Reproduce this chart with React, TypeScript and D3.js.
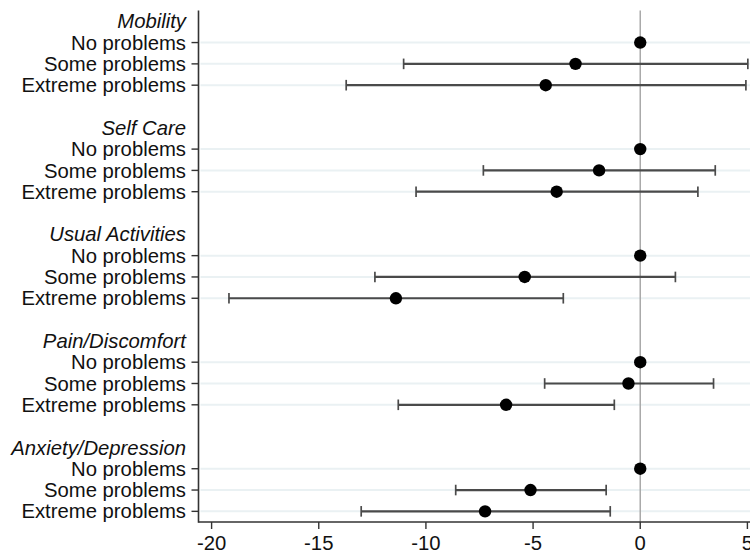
import React, { useRef, useEffect } from "react";
import { select, scaleLinear, scalePoint } from "d3";

const domains = ["Mobility", "Self Care", "Usual Activities", "Pain/Discomfort", "Anxiety/Depression"];
const levels = ["No problems", "Some problems", "Extreme problems"];

// "No problems" is the reference level: estimate 0, no interval
const someEst = [-3.02, -1.92, -5.39, -0.55, -5.12];
const someLo = [-11.04, -7.32, -12.38, -4.46, -8.61];
const someHi = [5.02, 3.5, 1.64, 3.42, -1.59];
const extremeEst = [-4.41, -3.9, -11.4, -6.26, -7.24];
const extremeLo = [-13.72, -10.46, -19.19, -11.29, -13.02];
const extremeHi = [4.93, 2.69, -3.59, -1.21, -1.4];

const xTicks = [-20, -15, -10, -5, 0, 5];

const W = 750;
const H = 554;
const FONT = "'Liberation Sans', Arial, sans-serif";
const FS = "20.3px";

const App = () => {
    const svgRef = useRef<SVGSVGElement>(null);

    useEffect(() => {
        const svg = select(svgRef.current);
        svg.selectAll("*").remove();

        const left = 198.5;
        const top = 10.6;
        const bottom = 522;

        const x = scaleLinear().domain([-20, 5]).range([211.6, 747.4]);

        // slots: header + 3 levels + gap per domain (no trailing gap)
        const slots: string[] = [];
        domains.forEach((d, i) => {
            slots.push("h" + i);
            levels.forEach((l, j) => slots.push(i + "-" + j));
            if (i < domains.length - 1) slots.push("g" + i);
        });
        const y = scalePoint().domain(slots).range([top, bottom]).padding(0.5);

        const rows: { key: string; est: number; lo: number | null; hi: number | null; label: string }[] = [];
        domains.forEach((d, i) => {
            rows.push({ key: i + "-0", est: 0, lo: null, hi: null, label: levels[0] });
            rows.push({ key: i + "-1", est: someEst[i], lo: someLo[i], hi: someHi[i], label: levels[1] });
            rows.push({ key: i + "-2", est: extremeEst[i], lo: extremeLo[i], hi: extremeHi[i], label: levels[2] });
        });

        // gridlines
        svg.selectAll(".grid")
            .data(rows)
            .join("line")
            .attr("x1", left + 2)
            .attr("x2", W)
            .attr("y1", (d) => y(d.key)!)
            .attr("y2", (d) => y(d.key)!)
            .attr("stroke", "#eaf1f3")
            .attr("stroke-width", 2);

        // zero line
        svg.append("line")
            .attr("x1", x(0)).attr("x2", x(0))
            .attr("y1", top).attr("y2", bottom)
            .attr("stroke", "#a9a9a9")
            .attr("stroke-width", 1.5);

        const ci = rows.filter((d) => d.lo !== null);
        svg.selectAll(".ci")
            .data(ci)
            .join("line")
            .attr("x1", (d) => x(d.lo!))
            .attr("x2", (d) => x(d.hi!))
            .attr("y1", (d) => y(d.key)!)
            .attr("y2", (d) => y(d.key)!)
            .attr("stroke", "#4a4a4a")
            .attr("stroke-width", 2.2);

        ["lo", "hi"].forEach((end) => {
            svg.selectAll(".cap-" + end)
                .data(ci)
                .join("line")
                .attr("x1", (d: any) => x(d[end]))
                .attr("x2", (d: any) => x(d[end]))
                .attr("y1", (d) => y(d.key)! - 5.3)
                .attr("y2", (d) => y(d.key)! + 5.3)
                .attr("stroke", "#4a4a4a")
                .attr("stroke-width", 1.7);
        });

        svg.selectAll(".pt")
            .data(rows)
            .join("circle")
            .attr("cx", (d) => x(d.est))
            .attr("cy", (d) => y(d.key)!)
            .attr("r", 6.2)
            .attr("fill", "#000");

        // axes
        svg.append("line")
            .attr("x1", left).attr("x2", left)
            .attr("y1", top).attr("y2", bottom + 0.8)
            .attr("stroke", "#333").attr("stroke-width", 1.6);
        svg.append("line")
            .attr("x1", left).attr("x2", W)
            .attr("y1", bottom).attr("y2", bottom)
            .attr("stroke", "#333").attr("stroke-width", 1.6);

        // y ticks + labels
        svg.selectAll(".ytick")
            .data(rows)
            .join("line")
            .attr("x1", left - 7)
            .attr("x2", left)
            .attr("y1", (d) => y(d.key)!)
            .attr("y2", (d) => y(d.key)!)
            .attr("stroke", "#333")
            .attr("stroke-width", 1.4);

        svg.selectAll(".ylab")
            .data(rows)
            .join("text")
            .attr("x", 186)
            .attr("y", (d) => y(d.key)!)
            .attr("dy", "0.35em")
            .attr("text-anchor", "end")
            .style("font-family", FONT)
            .style("font-size", FS)
            .style("fill", "#111")
            .text((d) => d.label);

        svg.selectAll(".head")
            .data(domains)
            .join("text")
            .attr("x", 186)
            .attr("y", (d, i) => y("h" + i)!)
            .attr("dy", "0.35em")
            .attr("text-anchor", "end")
            .style("font-family", FONT)
            .style("font-style", "italic")
            .style("font-size", FS)
            .style("fill", "#111")
            .text((d) => d);

        // x ticks + labels
        svg.selectAll(".xtick")
            .data(xTicks)
            .join("line")
            .attr("x1", (d) => x(d))
            .attr("x2", (d) => x(d))
            .attr("y1", bottom)
            .attr("y2", bottom + 7)
            .attr("stroke", "#333")
            .attr("stroke-width", 1.4);

        svg.selectAll(".xlab")
            .data(xTicks)
            .join("text")
            .attr("x", (d) => x(d))
            .attr("y", 550)
            .attr("text-anchor", "middle")
            .style("font-family", FONT)
            .style("font-size", FS)
            .style("fill", "#111")
            .text((d) => String(d));
    }, []);

    return (
        <svg
            ref={svgRef}
            width={W}
            height={H}
            style={{ position: "absolute", left: 0, top: 0, display: "block", background: "#fff" }}
        />
    );
};

export default App;
